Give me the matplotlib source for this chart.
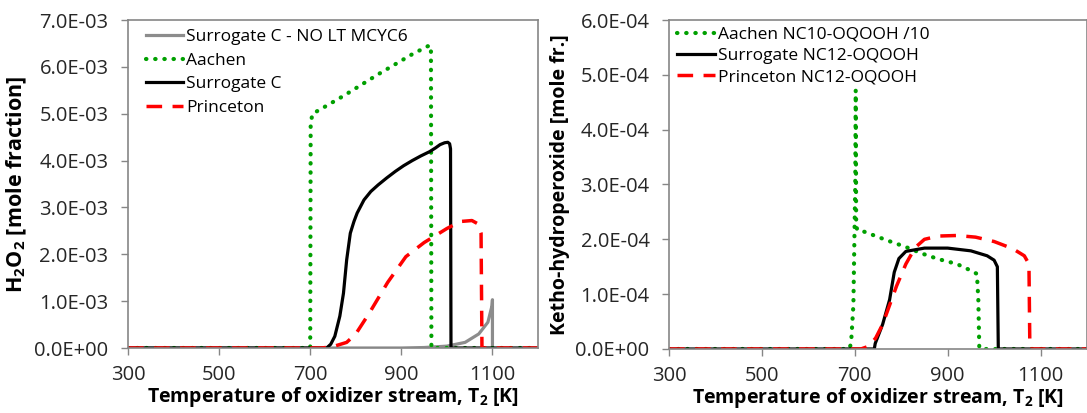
"""Two-panel comparison: H2O2 and keto-hydroperoxide vs. oxidizer stream temperature."""

import matplotlib

matplotlib.use("Agg")
import matplotlib.pyplot as plt  # noqa: E402
import numpy as np  # noqa: E402
from matplotlib.ticker import FuncFormatter, MultipleLocator  # noqa: E402

plt.rcParams["font.family"] = ["Open Sans", "DejaVu Sans"]

# --- left panel: H2O2 mole fraction (values in 1e-3) ------------------------
H2O2_NOLT_T = [300, 700, 900, 950, 1000, 1040, 1070, 1090, 1099, 1100, 1100]
H2O2_NOLT_Y = [0, 0, 0.0, 0.01, 0.04, 0.12, 0.3, 0.55, 0.9, 1.03, 0]

H2O2_AACHEN_T = [300, 700, 701, 705, 720, 773, 849, 924, 958, 965, 966, 1200]
H2O2_AACHEN_Y = [0, 0, 4.8, 5.0, 5.08, 5.38, 5.84, 6.27, 6.44, 6.45, 0, 0]

H2O2_SURR_T = [300, 736, 745, 754, 765, 773, 780, 788, 796, 803, 818, 833,
               849, 868, 887, 905, 924, 943, 962, 975, 985, 995, 1002, 1006,
               1008, 1009, 1200]
H2O2_SURR_Y = [0, 0, 0.08, 0.25, 0.68, 1.17, 1.88, 2.45, 2.7, 2.88, 3.16, 3.34,
               3.48, 3.63, 3.77, 3.89, 4.0, 4.1, 4.19, 4.27, 4.34, 4.38, 4.39,
               4.36, 4.25, 0, 0]

H2O2_PRIN_T = [300, 725, 750, 780, 800, 830, 870, 910, 950, 1000, 1030, 1055,
               1068, 1075, 1077, 1200]
H2O2_PRIN_Y = [0, 0, 0.03, 0.12, 0.3, 0.75, 1.4, 1.95, 2.25, 2.55, 2.7, 2.72,
               2.65, 2.45, 0, 0]

# --- right panel: keto-hydroperoxide mole fraction (values in 1e-4) ---------
KHP_AACHEN_T = [300, 688, 692, 697, 701, 702, 703, 705, 720, 770, 810, 845,
                880, 920, 950, 963, 966, 968, 970, 1200]
KHP_AACHEN_Y = [0, 0, 0.1, 0.8, 3.0, 4.72, 2.3, 2.17, 2.14, 1.98, 1.86, 1.74,
                1.64, 1.55, 1.43, 1.37, 0.9, 0.05, 0, 0]

KHP_SURR_T = [300, 742, 744, 760, 775, 785, 795, 810, 850, 900, 950, 985,
              1000, 1007, 1009, 1200]
KHP_SURR_Y = [0, 0, 0.1, 0.45, 0.9, 1.4, 1.65, 1.78, 1.84, 1.84, 1.79, 1.7,
              1.62, 1.5, 0, 0]

KHP_PRIN_T = [300, 713, 730, 745, 760, 775, 790, 810, 830, 850, 880, 920, 960,
              1000, 1040, 1065, 1075, 1077, 1200]
KHP_PRIN_Y = [0, 0, 0.05, 0.2, 0.45, 0.8, 1.15, 1.55, 1.85, 2.0, 2.06, 2.07,
              2.04, 1.96, 1.83, 1.7, 1.55, 0, 0]

GRAY = "#8c8c8c"
GREEN = "#00a000"
RED = "#ff0000"
SPINE = "#868686"
TICK_FS = 14.5
LABEL_FS = 14
DOTS = (0.1, 2.1)      # round-capped dotted line
DASHES = (4.5, 3)


def _style(ax, ymax, ystep):
    ax.set_xlim(300, 1200)
    ax.set_ylim(0, ymax)
    ax.yaxis.set_major_locator(MultipleLocator(ystep))
    ax.set_xticks([300, 500, 700, 900, 1100])
    ax.yaxis.set_major_formatter(FuncFormatter(lambda v, _: f"{v:.1E}"))
    for s in ax.spines.values():
        s.set_color(SPINE)
        s.set_linewidth(1.2)
    ax.tick_params(direction="out", length=5, width=1, color=SPINE,
                   labelsize=TICK_FS, labelcolor="#262626")
    ax.tick_params(axis="y", pad=9)
    ax.tick_params(axis="x", pad=7)
    ax.set_xlabel("Temperature of oxidizer stream, T$_\\mathregular{2}$ [K]",
                  fontsize=LABEL_FS, fontweight="bold", labelpad=0)


fig = plt.figure(figsize=(10.87, 4.13), dpi=100)
ax1 = fig.add_axes([128 / 1087, 65 / 413, 410 / 1087, 328 / 413])
ax2 = fig.add_axes([669 / 1087, 64 / 413, 418 / 1087, 329 / 413])

# left panel (draw order as in the source: gray, green, black, red on top)
s1 = 1e-3
ax1.plot(H2O2_NOLT_T, np.array(H2O2_NOLT_Y) * s1, color=GRAY, lw=2.3,
         label="Surrogate C - NO LT MCYC6")
ax1.plot(H2O2_AACHEN_T, np.array(H2O2_AACHEN_Y) * s1, color=GREEN, lw=3,
         dashes=DOTS, dash_capstyle="round", label="Aachen")
ax1.plot(H2O2_SURR_T, np.array(H2O2_SURR_Y) * s1, color="black", lw=2.3,
         label="Surrogate C")
ax1.plot(H2O2_PRIN_T, np.array(H2O2_PRIN_Y) * s1, color=RED, lw=2.5,
         dashes=DASHES, label="Princeton")
_style(ax1, 7e-3, 1e-3)
ax1.set_ylabel("H$_\\mathregular{2}$O$_\\mathregular{2}$ [mole fraction]",
               fontsize=LABEL_FS + 1.5, fontweight="bold", labelpad=4)
ax1.legend(loc="upper left", bbox_to_anchor=(0.045, 0.972), frameon=False,
           fontsize=12.5, handlelength=2.1, handletextpad=0.2,
           labelspacing=0.42, borderpad=0, borderaxespad=0)

# right panel
s2 = 1e-4
ax2.plot(KHP_AACHEN_T, np.array(KHP_AACHEN_Y) * s2, color=GREEN, lw=3,
         dashes=DOTS, dash_capstyle="round", label="Aachen NC10-OQOOH /10")
ax2.plot(KHP_SURR_T, np.array(KHP_SURR_Y) * s2, color="black", lw=2.3,
         label="Surrogate NC12-OQOOH")
ax2.plot(KHP_PRIN_T, np.array(KHP_PRIN_Y) * s2, color=RED, lw=2.5,
         dashes=DASHES, label="Princeton NC12-OQOOH")
_style(ax2, 6e-4, 1e-4)
ax2.set_ylabel("Ketho-hydroperoxide [mole fr.]", fontsize=LABEL_FS,
               fontweight="bold", labelpad=4)
ax2.legend(loc="upper left", bbox_to_anchor=(0.018, 0.98), frameon=False,
           fontsize=12.5, handlelength=2.2, handletextpad=0.2,
           labelspacing=0.3, borderpad=0, borderaxespad=0)

fig.savefig("out.png", dpi=100)
